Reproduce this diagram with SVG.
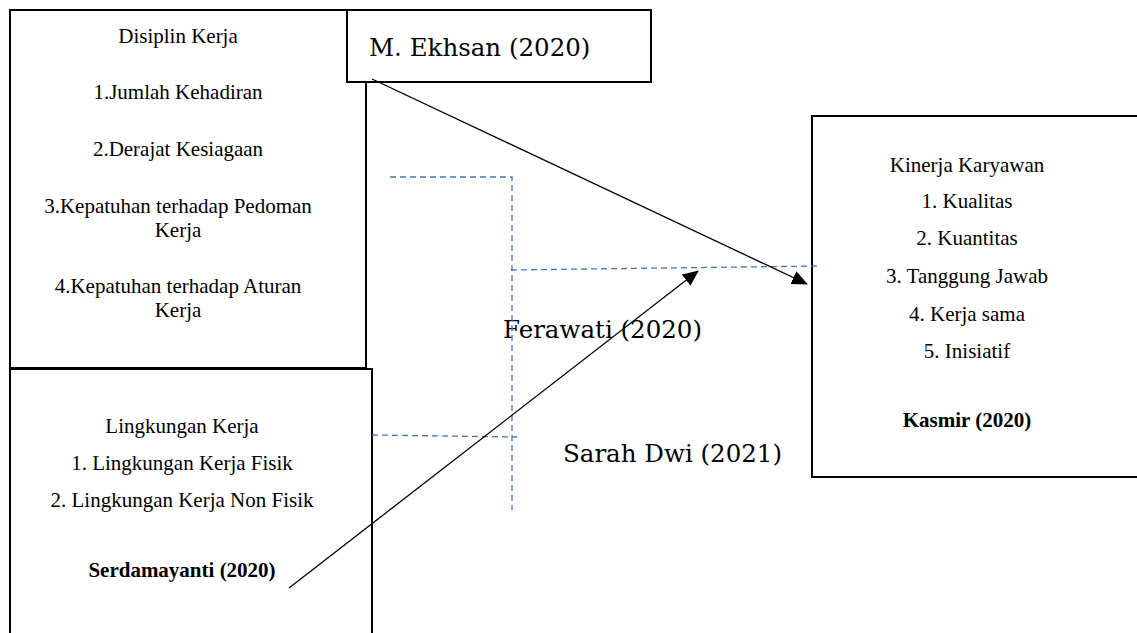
<svg xmlns="http://www.w3.org/2000/svg" width="1137" height="633" viewBox="0 0 1137 633">
<style>
.box{fill:#fff;stroke:#000;stroke-width:2}
.t{font-family:"Liberation Serif","Times New Roman",serif;font-size:21px;fill:#000;text-anchor:middle}
.b{font-weight:bold}
.lab{font-family:"DejaVu Serif","Liberation Serif",serif;font-size:24.5px;fill:#000}
.dash{fill:none;stroke:#4472C4;stroke-width:1.3;stroke-dasharray:6 4}
.arr{fill:none;stroke:#000;stroke-width:1.3;marker-end:url(#ah)}
</style>
<defs>
<marker id="ah" markerWidth="16" markerHeight="14" refX="15" refY="7" orient="auto" markerUnits="userSpaceOnUse">
<path d="M0,0 L16,7 L0,14 Z" fill="#000"/>
</marker>
</defs>
<g id="disiplin">
<rect class="box" x="10" y="10" width="356" height="358"/>
<text class="t" x="178" y="43">Disiplin Kerja</text>
<text class="t" x="178" y="99">1.Jumlah Kehadiran</text>
<text class="t" x="178" y="156">2.Derajat Kesiagaan</text>
<text class="t" x="178" y="213">3.Kepatuhan terhadap Pedoman</text>
<text class="t" x="178" y="237">Kerja</text>
<text class="t" x="178" y="293">4.Kepatuhan terhadap Aturan</text>
<text class="t" x="178" y="317">Kerja</text>
</g>
<g id="ekhsan">
<rect class="box" x="347" y="10" width="304" height="72"/>
<text class="lab" x="369" y="56">M. Ekhsan (2020)</text>
</g>
<g id="lingkungan">
<rect class="box" x="10" y="369" width="362" height="280"/>
<text class="t" x="182" y="433">Lingkungan Kerja</text>
<text class="t" x="182" y="470">1. Lingkungan Kerja Fisik</text>
<text class="t" x="182" y="507">2. Lingkungan Kerja Non Fisik</text>
<text class="t b" x="182" y="577">Serdamayanti (2020)</text>
</g>
<g id="kinerja">
<rect class="box" x="812" y="116" width="340" height="361"/>
<text class="t" x="967" y="172">Kinerja Karyawan</text>
<text class="t" x="967" y="208">1. Kualitas</text>
<text class="t" x="967" y="245">2. Kuantitas</text>
<text class="t" x="967" y="283">3. Tanggung Jawab</text>
<text class="t" x="967" y="321">4. Kerja sama</text>
<text class="t" x="967" y="358">5. Inisiatif</text>
<text class="t b" x="967" y="427">Kasmir (2020)</text>
</g>
<g id="labels">
<text class="lab" x="503" y="338">Ferawati (2020)</text>
<text class="lab" x="563" y="462">Sarah Dwi (2021)</text>
</g>
<g id="connectors">
<path class="dash" d="M390,177 L512,177 L512,510"/>
<path class="dash" d="M511,270 L820,266"/>
<path class="dash" d="M372,435 L517,437"/>
<path class="arr" d="M372,79 L807,284"/>
<path class="arr" d="M289,588 L698,271"/>
</g>
</svg>
